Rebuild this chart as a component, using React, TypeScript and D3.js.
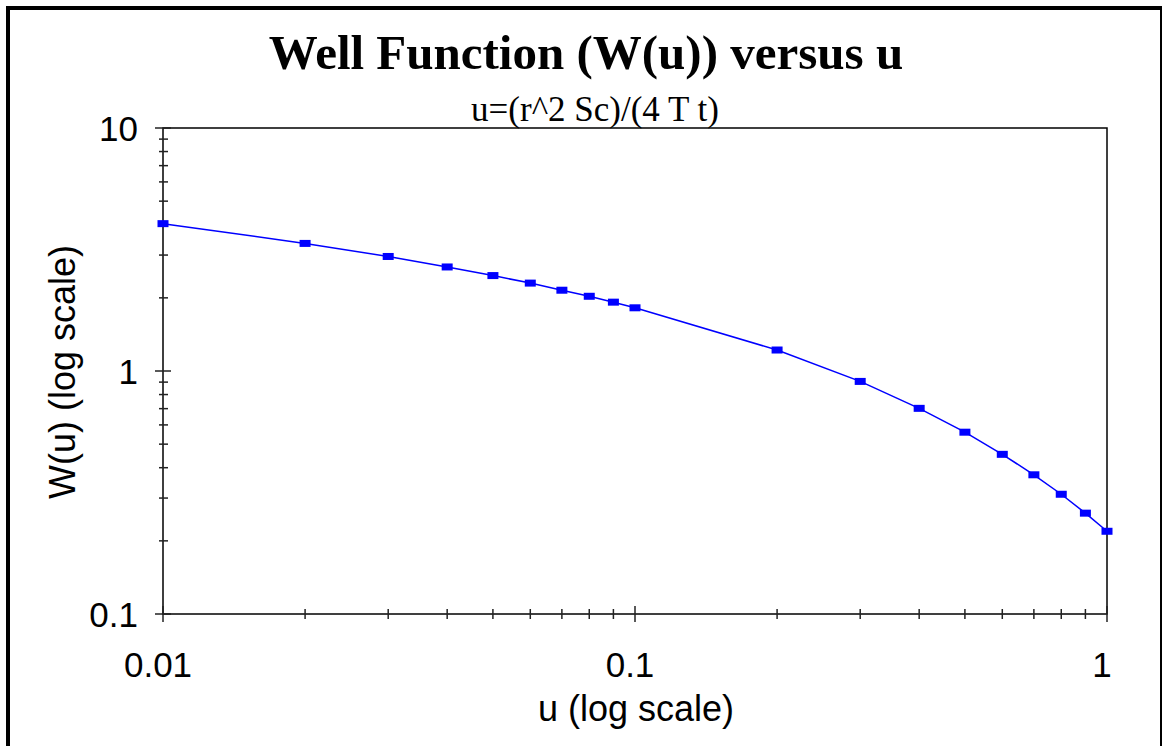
import { useEffect, useRef } from 'react';
import * as d3 from 'd3';

const WIDTH = 1162;
const HEIGHT = 746;

// Well function table values
const U_VALUES = [0.01, 0.02, 0.03, 0.04, 0.05, 0.06, 0.07, 0.08, 0.09, 0.1, 0.2, 0.3, 0.4, 0.5, 0.6, 0.7, 0.8, 0.9, 1.0];
const W_VALUES = [4.04, 3.35, 2.96, 2.68, 2.47, 2.30, 2.15, 2.03, 1.92, 1.82, 1.22, 0.906, 0.702, 0.560, 0.454, 0.374, 0.311, 0.260, 0.219];

const X_MAJOR_TICKS = [0.01, 0.1, 1];
const X_TICK_LABELS = ['0.01', '0.1', '1'];
const Y_MAJOR_TICKS = [0.1, 1, 10];
const Y_TICK_LABELS = ['0.1', '1', '10'];

const TITLE = 'Well Function (W(u)) versus u';
const SUBTITLE = 'u=(r^2 Sc)/(4 T t)';
const X_TITLE = 'u (log scale)';
const Y_TITLE = 'W(u) (log scale)';

const SANS = '"Liberation Sans", Arial, sans-serif';
const SERIF = '"Liberation Serif", "Times New Roman", serif';

function minorTicks(lo: number, hi: number): number[] {
  const out: number[] = [];
  for (let d = lo; d < hi; d *= 10) {
    for (let k = 2; k <= 9; k++) out.push(+(d * k).toPrecision(3));
  }
  return out;
}

export default function App() {
  const svgRef = useRef<SVGSVGElement>(null);

  useEffect(() => {
    if (!svgRef.current) return;
    const svg = d3.select(svgRef.current);
    svg.selectAll('*').remove();

    const left = 163;
    const right = 1107;
    const top = 128;
    const bottom = 614;

    const x = d3.scaleLog().domain([0.01, 1]).range([left, right]);
    const y = d3.scaleLog().domain([0.1, 10]).range([bottom, top]);

    svg.append('rect').attr('width', WIDTH).attr('height', HEIGHT).attr('fill', '#fff');

    // outer frame
    svg.append('line').attr('x1', 8).attr('y1', 6).attr('x2', 8).attr('y2', HEIGHT)
      .attr('stroke', '#000').attr('stroke-width', 4);
    svg.append('line').attr('x1', 6).attr('y1', 8).attr('x2', 1162).attr('y2', 8)
      .attr('stroke', '#000').attr('stroke-width', 4);
    svg.append('line').attr('x1', 1161).attr('y1', 6).attr('x2', 1161).attr('y2', HEIGHT)
      .attr('stroke', '#000').attr('stroke-width', 2);

    // titles
    svg.append('text')
      .attr('x', 586).attr('y', 69)
      .attr('text-anchor', 'middle')
      .attr('font-family', SERIF).attr('font-weight', 'bold').attr('font-size', 49)
      .text(TITLE);
    svg.append('text')
      .attr('x', 595).attr('y', 121)
      .attr('text-anchor', 'middle')
      .attr('font-family', SERIF).attr('font-size', 35)
      .text(SUBTITLE);

    const g = svg.append('g');

    // plot frame
    g.append('rect')
      .attr('x', left).attr('y', top)
      .attr('width', right - left).attr('height', bottom - top)
      .attr('fill', 'none').attr('stroke', '#000').attr('stroke-width', 1.5);

    // y ticks
    Y_MAJOR_TICKS.forEach((v) => {
      g.append('line').attr('x1', left - 8).attr('x2', left + 8)
        .attr('y1', y(v)).attr('y2', y(v)).attr('stroke', '#222').attr('stroke-width', 1.5);
    });
    minorTicks(0.1, 10).forEach((v) => {
      g.append('line').attr('x1', left - 4).attr('x2', left + 5)
        .attr('y1', y(v)).attr('y2', y(v)).attr('stroke', '#222').attr('stroke-width', 1.5);
    });

    // x ticks
    X_MAJOR_TICKS.forEach((v) => {
      g.append('line').attr('y1', bottom - 8).attr('y2', bottom + 8)
        .attr('x1', x(v)).attr('x2', x(v)).attr('stroke', '#222').attr('stroke-width', 1.5);
    });
    minorTicks(0.01, 1).forEach((v) => {
      g.append('line').attr('y1', bottom - 5).attr('y2', bottom + 5)
        .attr('x1', x(v)).attr('x2', x(v)).attr('stroke', '#222').attr('stroke-width', 1.5);
    });

    // tick labels
    Y_MAJOR_TICKS.forEach((v, i) => {
      g.append('text')
        .attr('x', 138).attr('y', y(v) + 13)
        .attr('text-anchor', 'end')
        .attr('font-family', SANS).attr('font-size', 35)
        .text(Y_TICK_LABELS[i]);
    });
    X_MAJOR_TICKS.forEach((v, i) => {
      g.append('text')
        .attr('x', x(v) - 5).attr('y', 677)
        .attr('text-anchor', 'middle')
        .attr('font-family', SANS).attr('font-size', 35)
        .text(X_TICK_LABELS[i]);
    });

    // axis titles
    g.append('text')
      .attr('x', 636).attr('y', 721)
      .attr('text-anchor', 'middle')
      .attr('font-family', SANS).attr('font-size', 36)
      .text(X_TITLE);
    g.append('text')
      .attr('transform', `translate(75, 372) rotate(-90)`)
      .attr('text-anchor', 'middle')
      .attr('font-family', SANS).attr('font-size', 36)
      .text(Y_TITLE);

    // series
    const points = U_VALUES.map((u, i) => [u, W_VALUES[i]] as [number, number]);
    const line = d3.line<[number, number]>()
      .x((d) => x(d[0]))
      .y((d) => y(d[1]));

    g.append('path')
      .attr('d', line(points) || '')
      .attr('fill', 'none')
      .attr('stroke', '#0000ff')
      .attr('stroke-width', 1.5);

    g.selectAll('rect.marker')
      .data(points)
      .enter()
      .append('rect')
      .attr('class', 'marker')
      .attr('x', (d) => x(d[0]) - 5.5)
      .attr('y', (d) => y(d[1]) - 3.5)
      .attr('width', 11)
      .attr('height', 7)
      .attr('fill', '#0000ff');
  }, []);

  return (
    <svg
      ref={svgRef}
      width={WIDTH}
      height={HEIGHT}
      viewBox={`0 0 ${WIDTH} ${HEIGHT}`}
      style={{ position: 'absolute', left: 0, top: 0 }}
    />
  );
}
